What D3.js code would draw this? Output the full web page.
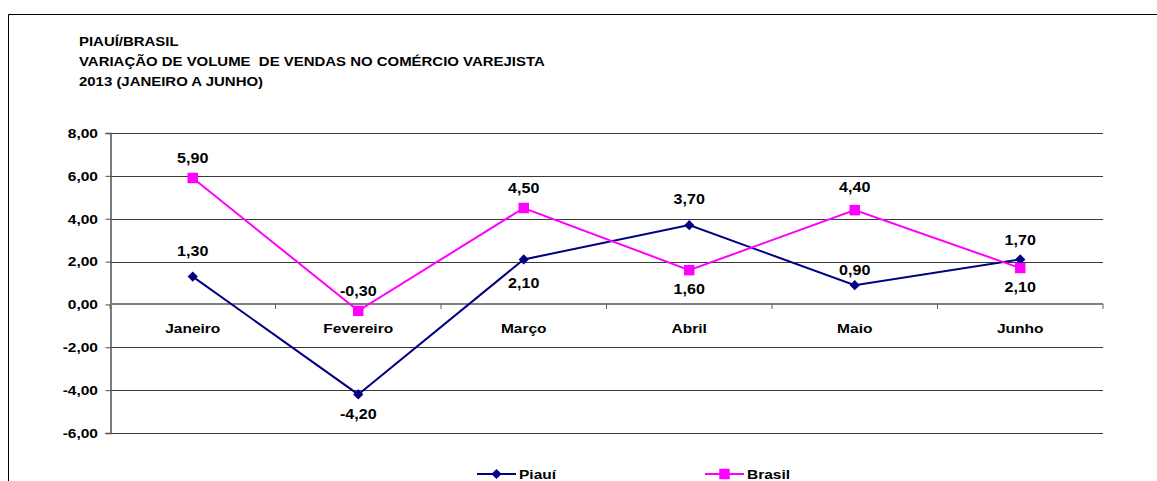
<!DOCTYPE html>
<html>
<head>
<meta charset="utf-8">
<script src="https://cdn.jsdelivr.net/npm/d3@7"></script>
<style>
  html, body { margin: 0; padding: 0; background: #fff; }
  svg { display: block; }
  text { font-family: "Liberation Sans", Arial, sans-serif; font-weight: bold; fill: #000; white-space: pre; }
</style>
</head>
<body>
<script>
// Retail sales volume variation, Piauí vs Brasil, Jan–Jun 2013
const categories = ["Janeiro", "Fevereiro", "Março", "Abril", "Maio", "Junho"];
const piaui = [1.30, -4.20, 2.10, 3.70, 0.90, 2.10];
const brasil = [5.90, -0.30, 4.50, 1.60, 4.40, 1.70];
const yTicks = [-6, -4, -2, 0, 2, 4, 6, 8];
const titleLines = [
  "PIAUÍ/BRASIL",
  "VARIAÇÃO DE VOLUME  DE VENDAS NO COMÉRCIO VAREJISTA",
  "2013 (JANEIRO A JUNHO)"
];
const seriesNames = ["Piauí", "Brasil"];

// label placement (pixels from the marker, negative = above)
const piauiLabelDy = [-25, 20, 24, -26, -15, 28];
const brasilLabelDy = [-20, -20, -20, 19, -23, -28];

const W = 1157, H = 481;
const plot = { left: 110, right: 1103, top: 133, bottom: 433 };
const STRETCH = 1.15;
const NAVY = "#000080", MAGENTA = "#FF00FF";

const fmt = v => d3.format(".2f")(v).replace(".", ",").replace("−", "-");

const svg = d3.select("body").append("svg")
  .attr("width", W).attr("height", H);

// outer frame (only top and left edges fall inside the view)
svg.append("path")
  .attr("d", `M8.5,${H} V14.5 H${W}`)
  .attr("fill", "none").attr("stroke", "#000").attr("stroke-width", 1);

// horizontally widened text, anchored at (x, y)
function label(parent, x, y, str, size, anchor) {
  parent.append("g")
    .attr("transform", `translate(${x},${y}) scale(${STRETCH},1)`)
    .append("text")
    .attr("xml:space", "preserve")
    .attr("text-anchor", anchor)
    .style("font-size", size + "px")
    .text(str);
}

// title
titleLines.forEach((t, i) => label(svg, 79, 46 + i * 20, t, 13, "start"));

const x = d3.scaleBand().domain(categories).range([plot.left, plot.right]);
const cx = c => x(c) + x.bandwidth() / 2;
const y = d3.scaleLinear().domain([-6, 8]).range([plot.bottom, plot.top]);

// gridlines
svg.append("g").selectAll("line")
  .data(yTicks.filter(v => v !== 0))
  .join("line")
  .attr("x1", plot.left).attr("x2", plot.right)
  .attr("y1", d => Math.round(y(d)) + 0.5).attr("y2", d => Math.round(y(d)) + 0.5)
  .attr("stroke", "#3a3a3a").attr("stroke-width", 1);

// value axis
const yAxis = svg.append("g")
  .attr("transform", `translate(${plot.left + 0.5},0)`)
  .call(d3.axisLeft(y).tickValues(yTicks).tickSize(5).tickPadding(7).tickFormat(() => ""));
yAxis.select(".domain").attr("stroke", "#505050").attr("stroke-width", 1.5);
yAxis.selectAll(".tick line").attr("stroke", "#505050").attr("stroke-width", 1);
yTicks.forEach(v => label(svg, 98, y(v) + 4.8, fmt(v), 13.5, "end"));

// category axis along zero
const xb = svg.append("g").attr("transform", `translate(0,${Math.round(y(0))})`);
xb.append("line")
  .attr("x1", plot.left).attr("x2", plot.right)
  .attr("stroke", "#808080").attr("stroke-width", 2);
const bounds = categories.map(c => x(c)).concat([plot.right]);
xb.selectAll("line.tk").data(bounds).join("line").attr("class", "tk")
  .attr("x1", d => d).attr("x2", d => d).attr("y1", 0).attr("y2", 5)
  .attr("stroke", "#606060").attr("stroke-width", 1);
categories.forEach(c => label(svg, cx(c), 333, c, 13.5, "middle"));

// series
const line = d3.line().x((d, i) => cx(categories[i])).y(d => y(d));
const diamond = d3.symbol().type(d3.symbolSquare).size(52);
const square = d3.symbol().type(d3.symbolSquare).size(110);

function drawSeries(values, color, shape, rotate, dys) {
  const g = svg.append("g");
  g.append("path").datum(values)
    .attr("d", line).attr("fill", "none")
    .attr("stroke", color).attr("stroke-width", 2);
  g.selectAll("path.m").data(values).join("path").attr("class", "m")
    .attr("d", shape)
    .attr("transform", (d, i) => `translate(${cx(categories[i])},${y(d)}) rotate(${rotate})`)
    .attr("fill", color);
  values.forEach((v, i) => label(svg, cx(categories[i]), y(v) + dys[i] + 4.9, fmt(v), 14, "middle"));
}

drawSeries(piaui, NAVY, diamond, 45, piauiLabelDy);
drawSeries(brasil, MAGENTA, square, 0, brasilLabelDy);

// legend
const legend = [
  { name: seriesNames[0], color: NAVY, shape: diamond, rot: 45, x: 477 },
  { name: seriesNames[1], color: MAGENTA, shape: square, rot: 0, x: 705 }
];
const ly = 474;
legend.forEach(l => {
  svg.append("line").attr("x1", l.x).attr("x2", l.x + 39)
    .attr("y1", ly).attr("y2", ly).attr("stroke", l.color).attr("stroke-width", 2);
  svg.append("path").attr("d", l.shape)
    .attr("transform", `translate(${l.x + 19.5},${ly}) rotate(${l.rot})`)
    .attr("fill", l.color);
  label(svg, l.x + 42, ly + 5, l.name, 13.5, "start");
});
</script>
</body>
</html>
